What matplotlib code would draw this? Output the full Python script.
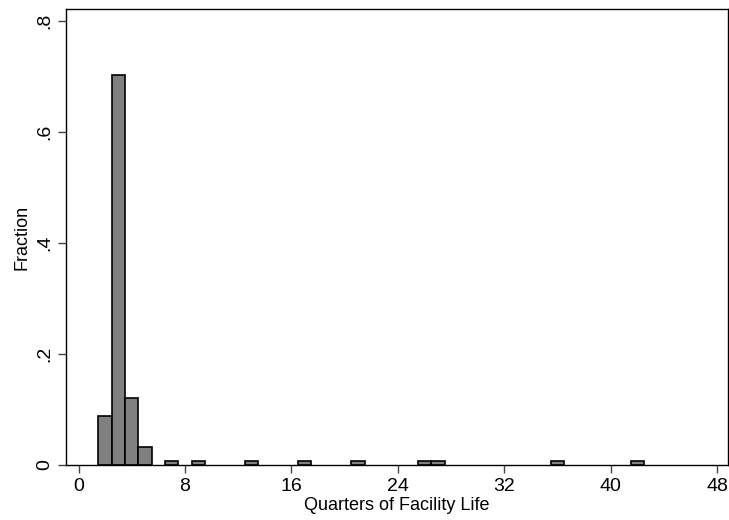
import numpy as np
import matplotlib
matplotlib.use("Agg")
import matplotlib.pyplot as plt

plt.rcParams['font.family'] = ['Liberation Sans', 'DejaVu Sans']

# quarters of facility life (bin centres) and fraction of facilities
quarters = [2, 3, 4, 5, 7, 9, 13, 17, 21, 26, 27, 36, 42]
fraction = [0.088, 0.703, 0.120, 0.032, 0.0069, 0.0069, 0.0069, 0.0069,
            0.0069, 0.0069, 0.0069, 0.0069, 0.0069]

xticks = [0, 8, 16, 24, 32, 40, 48]
yticks = [0, 0.2, 0.4, 0.6, 0.8]
ytick_labels = ['0', '.2', '.4', '.6', '.8']

fig = plt.figure(figsize=(7.29, 5.2), dpi=100)
ax = fig.add_axes([66 / 729, 55 / 520, 662 / 729, 456 / 520])

ax.bar(quarters, fraction, width=1.0, color='#808080', edgecolor='black',
       linewidth=1.2)

ax.set_xlim(-0.94, 48.8)
ax.set_ylim(0, 0.821)
ax.set_xticks(xticks)
ax.set_yticks(yticks)
ax.set_yticklabels(ytick_labels, rotation=90, va='center')
ax.tick_params(axis='both', direction='out', length=6, width=1,
               labelsize=14, color='#444444')

for sp in ax.spines.values():
    sp.set_color('black')
    sp.set_linewidth(1)

ax.set_xlabel('Quarters of Facility Life', fontsize=13, labelpad=1)
ax.set_ylabel('Fraction', fontsize=13, labelpad=4)

fig.savefig('out.png', dpi=100)
